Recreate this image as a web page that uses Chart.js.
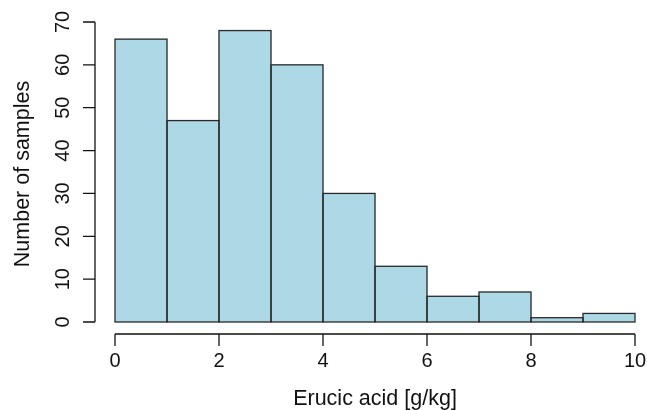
<!DOCTYPE html>
<html>
<head>
<meta charset="utf-8">
<script src="https://cdn.jsdelivr.net/npm/chart.js@4"></script>
<style>
  html, body { margin: 0; padding: 0; background: #fff; }
  #wrap { width: 647px; height: 410px; position: relative; }
</style>
</head>
<body>
<div id="wrap"><canvas id="hist"></canvas></div>
<script>
// bin start of each histogram class (width 1 g/kg)
var binStart = [0, 1, 2, 3, 4, 5, 6, 7, 8, 9];
var counts = [66, 47, 68, 60, 30, 13, 6, 7, 1, 2];
var xTicks = [0, 2, 4, 6, 8, 10];
var yTicks = [0, 10, 20, 30, 40, 50, 60, 70];
var xTitle = "Erucic acid [g/kg]";
var yTitle = "Number of samples";

var points = [];
for (var i in binStart) {
  points.push({ x: binStart[i] + 0.5, y: counts[i] });
}

var ink = "#111";
var tickFont = "20px 'Liberation Sans', Arial, sans-serif";
var titleFont = "21.5px 'Liberation Sans', Arial, sans-serif";

// R style axes: detached from the plot region, drawn by hand from the scales
var rAxes = {
  id: "rAxes",
  afterDatasetsDraw: function (chart) {
    var c = chart.ctx;
    var area = chart.chartArea;
    var sx = chart.scales.x;
    var sy = chart.scales.y;

    // bar outlines (shared edges, 1px)
    var meta = chart.getDatasetMeta(0);
    c.save();
    c.strokeStyle = "#2a2a2a";
    c.lineWidth = 1.3;
    meta.data.forEach(function (bar) {
      var p = bar.getProps(["x", "y", "base", "width"], true);
      c.strokeRect(p.x - p.width / 2, p.y, p.width, p.base - p.y);
    });

    c.strokeStyle = ink;
    c.fillStyle = ink;
    c.lineWidth = 1.3;

    // x axis
    var ay = area.bottom + 12;
    c.beginPath();
    c.moveTo(sx.getPixelForValue(xTicks[0]), ay);
    c.lineTo(sx.getPixelForValue(xTicks[xTicks.length - 1]), ay);
    xTicks.forEach(function (t) {
      var px = sx.getPixelForValue(t);
      c.moveTo(px, ay);
      c.lineTo(px, ay + 12);
    });
    c.stroke();
    c.font = tickFont;
    c.textAlign = "center";
    c.textBaseline = "middle";
    xTicks.forEach(function (t) {
      c.fillText(String(t), sx.getPixelForValue(t), ay + 27);
    });
    c.font = titleFont;
    c.fillText(xTitle, (area.left + area.right) / 2, ay + 65);

    // y axis
    var ax = area.left - 20;
    c.beginPath();
    c.moveTo(ax, sy.getPixelForValue(yTicks[0]));
    c.lineTo(ax, sy.getPixelForValue(yTicks[yTicks.length - 1]));
    yTicks.forEach(function (t) {
      var py = sy.getPixelForValue(t);
      c.moveTo(ax, py);
      c.lineTo(ax - 12, py);
    });
    c.stroke();
    c.font = tickFont;
    yTicks.forEach(function (t) {
      c.save();
      c.translate(ax - 32, sy.getPixelForValue(t));
      c.rotate(-Math.PI / 2);
      c.fillText(String(t), 0, 0);
      c.restore();
    });
    c.save();
    c.font = titleFont;
    c.translate(23, (area.top + area.bottom) / 2 + 2);
    c.rotate(-Math.PI / 2);
    c.fillText(yTitle, 0, 0);
    c.restore();
    c.restore();
  }
};

new Chart(document.getElementById("hist"), {
  type: "bar",
  data: {
    datasets: [{
      data: points,
      backgroundColor: "#ADD8E6",
      borderWidth: 0,
      barPercentage: 1,
      categoryPercentage: 1
    }]
  },
  options: {
    responsive: true,
    maintainAspectRatio: false,
    animation: false,
    layout: { padding: { left: 115, right: 12, top: 22, bottom: 88 } },
    plugins: { legend: { display: false }, tooltip: { enabled: false } },
    scales: {
      x: { type: "linear", min: 0, max: 10, offset: false, display: false },
      y: { min: 0, max: 70, display: false }
    }
  },
  plugins: [rAxes]
});
</script>
</body>
</html>
